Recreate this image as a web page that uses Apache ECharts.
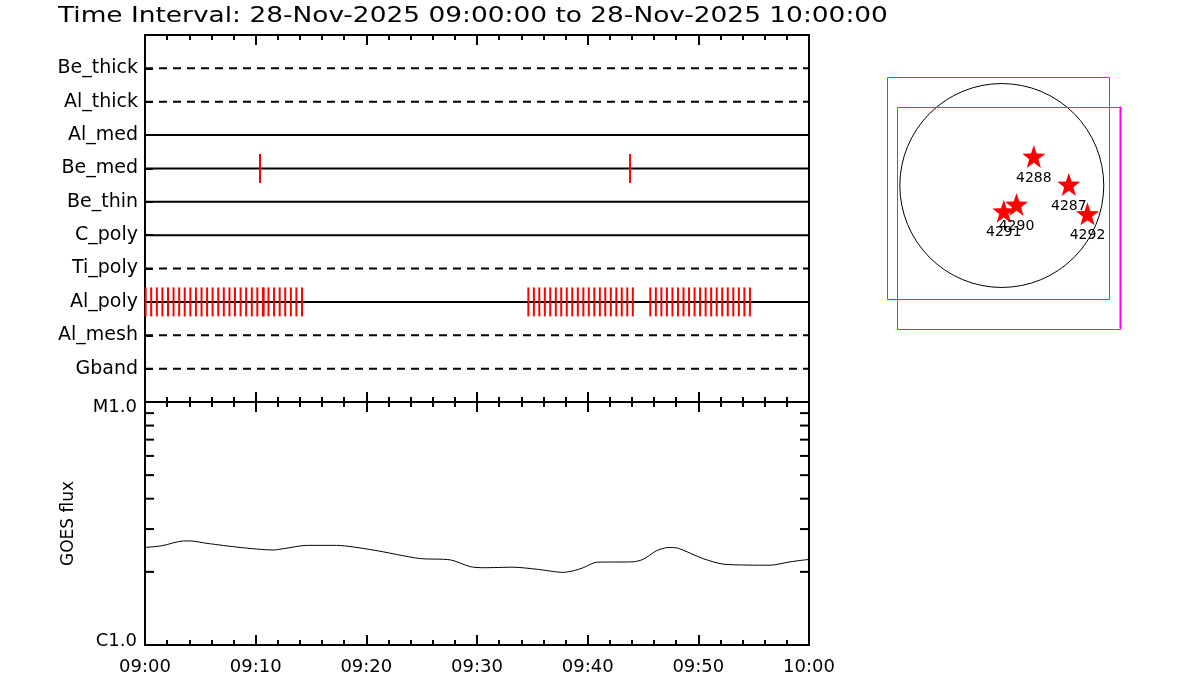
<!DOCTYPE html>
<html><head><meta charset="utf-8">
<script src="https://cdn.jsdelivr.net/npm/echarts@6/dist/echarts.min.js"></script>
<style>html,body{margin:0;padding:0;background:#fff}#c{width:1200px;height:700px}</style>
</head><body><div id="c"></div>
<script>
// ---- data ----
const titleText = 'Time Interval: 28-Nov-2025 09:00:00 to 28-Nov-2025 10:00:00';
const rowNames = [' ', 'Gband', 'Al_mesh', 'Al_poly', 'Ti_poly', 'C_poly', 'Be_thin', 'Be_med', 'Al_med', 'Al_thick', 'Be_thick', '  '];
const dashedRows = ['Be_thick', 'Al_thick', 'Ti_poly', 'Al_mesh', 'Gband'];
const solidRows = ['Al_med', 'Be_med', 'Be_thin', 'C_poly', 'Al_poly'];
const timeTickLabels = ['09:00', '09:10', '09:20', '09:30', '09:40', '09:50', '10:00'];
// exposure times, minutes after 09:00
const beMedTimes = [10.39, 43.83];
const alPolyTimes = [
  0.06, 0.56, 1.07, 1.57, 2.08, 2.58, 3.09, 3.59, 4.10, 4.60, 5.11, 5.61, 6.11, 6.62, 7.12,
  7.63, 8.13, 8.64, 9.14, 9.65, 10.15, 10.65, 10.72, 11.16, 11.66, 12.17, 12.67, 13.18, 13.68, 14.19,
  34.64, 35.14, 35.63, 36.13, 36.62, 37.12, 37.61, 38.11, 38.61, 39.11, 39.61, 40.10, 40.60, 41.10,
  41.59, 42.09, 42.59, 43.08, 43.58, 44.08,
  45.66, 46.16, 46.66, 47.16, 47.66, 48.16, 48.66, 49.16, 49.66, 50.16, 50.66, 51.16, 51.66, 52.16,
  52.66, 53.16, 53.66, 54.16, 54.66
];
// GOES flux (W/m^2) vs minutes after 09:00
const goesMinutes = [0, 1.5, 3.5, 4.1, 5.6, 8.6, 11.6, 12.5, 14.6, 17.3, 20.6, 24.8, 27.6, 29.4, 30.6, 33.3, 35.4, 37.8, 38.7, 39.6, 40.8, 44.1, 45.0, 46.2, 47.3, 48.2, 50.4, 52.3, 56.5, 58.3, 60];
const goesFlux = [2.52e-6, 2.56e-6, 2.68e-6, 2.68e-6, 2.62e-6, 2.52e-6, 2.46e-6, 2.49e-6, 2.57e-6, 2.57e-6, 2.46e-6, 2.27e-6, 2.24e-6, 2.10e-6, 2.08e-6, 2.09e-6, 2.05e-6, 1.99e-6, 2.02e-6, 2.08e-6, 2.19e-6, 2.20e-6, 2.25e-6, 2.44e-6, 2.52e-6, 2.50e-6, 2.27e-6, 2.15e-6, 2.13e-6, 2.20e-6, 2.25e-6];
const fluxMin = 1e-6, fluxMax = 1e-5;
const fluxMinLabel = 'C1.0', fluxMaxLabel = 'M1.0';
const fluxMinorTicks = [2e-6, 3e-6, 4e-6, 5e-6, 6e-6, 7e-6, 8e-6, 9e-6];
// solar map (arcsec)
const limbRadius = 971;
const fovBoxes = [[-1095, -1076, 1019, 1038], [-1000, -1362, 1124, 752]]; // x0,y0,x1,y1
const arNames = ['4288', '4287', '4292', '4290', '4291'];
const arX = [305, 638, 816, 140, 19];
const arY = [276, 10, -270, -181, -245];

// ---- chart ----
const FONT = 'DejaVu Sans';
const chart = echarts.init(document.getElementById('c'), null, {renderer: 'canvas'});
const starPath = 'path://M0,-10 L2.35,-3.24 L9.51,-3.09 L3.8,1.24 L5.88,8.09 L0,4 L-5.88,8.09 L-3.8,1.24 L-9.51,-3.09 L-2.35,-3.24 Z';

function timeXAxis(gridIndex, position, withLabels) {
  return {
    type: 'value', gridIndex, position, min: 0, max: 60, interval: 10,
    axisLine: {show: false},
    axisTick: {show: true, inside: true, length: 10, lineStyle: {color: '#000', width: 2}},
    minorTick: {show: true, splitNumber: 5, length: 5, lineStyle: {color: '#000', width: 2}},
    splitLine: {show: false},
    axisLabel: withLabels ? {
      show: true, margin: 13, color: '#000', fontFamily: FONT, fontSize: 18,
      formatter: v => timeTickLabels[Math.round(v / 10)]
    } : {show: false}
  };
}

const series = [];
rowNames.forEach(r => {
  if (!r.trim()) return;
  const dashed = dashedRows.includes(r);
  series.push({
    type: 'line', xAxisIndex: 0, yAxisIndex: 0, silent: true, showSymbol: false,
    data: [[0, r], [60, r]],
    lineStyle: {color: '#000', width: 2, type: dashed ? [8, 6] : 'solid'},
    z: 2
  });
});
series.push({
  type: 'scatter', xAxisIndex: 0, yAxisIndex: 0, symbol: 'rect', symbolSize: [2, 29],
  itemStyle: {color: '#ff0000', opacity: 1}, z: 3,
  data: beMedTimes.map(t => [t, 'Be_med']).concat(alPolyTimes.map(t => [t, 'Al_poly']))
});
series.push({
  type: 'line', xAxisIndex: 2, yAxisIndex: 1, showSymbol: false, smooth: 0.25,
  data: goesMinutes.map((m, i) => [m, goesFlux[i]]),
  lineStyle: {color: '#000', width: 1}, z: 3
});
// minor ticks of the log flux axis (left and right sides)
series.push({
  type: 'custom', xAxisIndex: 2, yAxisIndex: 1, silent: true, clip: false,
  data: fluxMinorTicks.map(v => [0, v]).concat(fluxMinorTicks.map(v => [60, v])),
  renderItem: (params, api) => {
    const p = api.coord([api.value(0), api.value(1)]);
    const dir = api.value(0) === 0 ? 1 : -1;
    return {type: 'line', shape: {x1: p[0], y1: p[1], x2: p[0] + dir * 9, y2: p[1]},
      style: {stroke: '#000', lineWidth: 2}};
  }
});
// solar limb
series.push({
  type: 'custom', xAxisIndex: 4, yAxisIndex: 2, silent: true, clip: false,
  data: [[0, 0, limbRadius]],
  renderItem: (params, api) => {
    const c = api.coord([api.value(0), api.value(1)]);
    const r = api.size([api.value(2), 0])[0];
    return {type: 'circle', shape: {cx: c[0], cy: c[1], r}, style: {fill: 'none', stroke: '#000', lineWidth: 1}};
  }
});
// FOV boxes
series.push({
  type: 'custom', xAxisIndex: 4, yAxisIndex: 2, silent: true, clip: false,
  data: fovBoxes,
  renderItem: (params, api) => {
    const a = api.coord([api.value(0), api.value(3)]);
    const b = api.coord([api.value(2), api.value(1)]);
    const children = [{type: 'rect', shape: {x: Math.round(a[0]) + 0.5, y: Math.round(a[1]) + 0.5, width: Math.round(b[0] - a[0]), height: Math.round(b[1] - a[1])},
      style: {fill: 'none', stroke: '#ff00ff', lineWidth: 1}}];
    if (params.dataIndex === 1) {
      children.push({type: 'line', shape: {x1: Math.round(b[0]) + 0.5, y1: a[1], x2: Math.round(b[0]) + 0.5, y2: b[1]},
        style: {stroke: '#ff00ff', lineWidth: 2}});
    }
    return {type: 'group', children};
  }
});
// active regions
series.push({
  type: 'scatter', xAxisIndex: 4, yAxisIndex: 2, symbol: starPath, symbolSize: 23,
  itemStyle: {color: '#ff0000', opacity: 1}, z: 4,
  label: {show: true, position: 'bottom', distance: 3, formatter: '{b}', color: '#000', fontFamily: FONT, fontSize: 14},
  data: arNames.map((n, i) => ({name: n, value: [arX[i], arY[i]]}))
});

chart.setOption({
  animation: false,
  backgroundColor: '#fff',
  textStyle: {fontFamily: FONT},
  graphic: [{
    type: 'text', x: 58, y: 16, scaleX: 1.2,
    style: {text: titleText, font: '22px "DejaVu Sans"', fill: '#000', verticalAlign: 'middle', align: 'left'}
  }],
  grid: [
    {left: 145, top: 35, width: 664, height: 367, show: true, borderColor: '#000', borderWidth: 2, backgroundColor: 'transparent'},
    {left: 145, top: 402, width: 664, height: 243, show: true, borderColor: '#000', borderWidth: 2, backgroundColor: 'transparent'},
    {left: 880, top: 70, width: 252, height: 273, show: false}
  ],
  xAxis: [
    timeXAxis(0, 'bottom', false),
    timeXAxis(0, 'top', false),
    timeXAxis(1, 'bottom', true),
    timeXAxis(1, 'top', false),
    {type: 'value', gridIndex: 2, min: -1160, max: 1240, show: false}
  ],
  yAxis: [
    {
      type: 'category', gridIndex: 0, data: rowNames, boundaryGap: false,
      axisLine: {show: false},
      axisTick: {show: true, inside: true, length: 8, lineStyle: {color: '#000', width: 2}},
      axisLabel: {color: '#000', fontFamily: FONT, fontSize: 19, margin: 7, interval: 0, padding: [4, 0, 0, 0]},
      splitLine: {show: false}
    },
    {
      type: 'log', logBase: 10, gridIndex: 1, min: fluxMin, max: fluxMax, splitNumber: 1,
      axisLine: {show: false},
      axisTick: {show: true, inside: true, length: 10, lineStyle: {color: '#000', width: 2}},
      splitLine: {show: false},
      axisLabel: {color: '#000', fontFamily: FONT, fontSize: 18, margin: 8,
        formatter: v => (v >= fluxMax * 0.99 ? '{hi|' + fluxMaxLabel + '}' : (v <= fluxMin * 1.01 ? '{lo|' + fluxMinLabel + '}' : '')),
        rich: {
          hi: {fontFamily: FONT, fontSize: 18, color: '#000', padding: [10, 0, 0, 0]},
          lo: {fontFamily: FONT, fontSize: 18, color: '#000', padding: [0, 0, 8, 0]}
        }},
      name: 'GOES flux', nameLocation: 'middle', nameGap: 68, nameRotate: 90,
      nameTextStyle: {color: '#000', fontFamily: FONT, fontSize: 17}
    },
    {type: 'value', gridIndex: 2, min: -1500, max: 1100, show: false}
  ],
  series
});
</script>
</body></html>
